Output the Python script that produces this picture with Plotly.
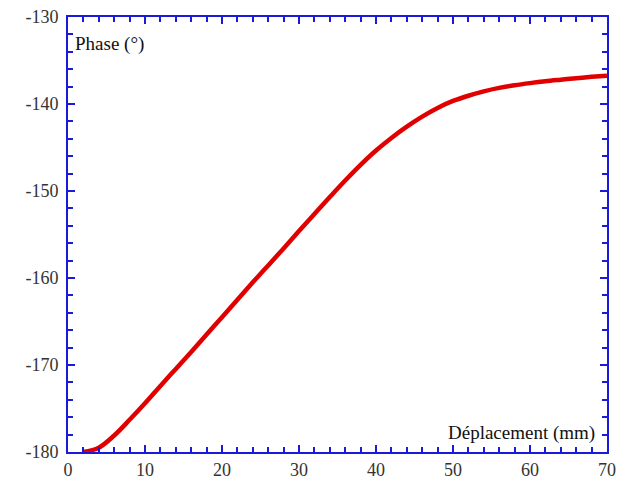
import plotly.graph_objects as go

displacement_mm = [2, 4, 6, 8, 10, 12, 14, 16, 18, 20, 22, 24, 26, 28, 30, 32, 34, 36,
                   38, 40, 42, 44, 46, 48, 50, 52, 54, 56, 58, 60, 62, 64, 66, 68, 70]
phase_deg = [-180.0, -179.5, -178.1, -176.3, -174.4, -172.4, -170.45, -168.5, -166.5,
             -164.5, -162.5, -160.5, -158.55, -156.6, -154.6, -152.65, -150.7, -148.8,
             -147.0, -145.35, -143.9, -142.6, -141.45, -140.45, -139.65, -139.05, -138.55,
             -138.15, -137.85, -137.6, -137.38, -137.2, -137.03, -136.88, -136.75]

x_ticks = [0, 10, 20, 30, 40, 50, 60, 70]
y_ticks = [-180, -170, -160, -150, -140, -130]
y_ticklabels = ["-180", "-170", "-160", "-150", "-140", "-130"]

x_title = "Déplacement (mm)"
y_title = "Phase (°)"

fig = go.Figure()
fig.add_trace(go.Scatter(x=displacement_mm, y=phase_deg, mode="lines",
                         line=dict(color="#e00000", width=4.5, shape="spline", smoothing=1.0),
                         showlegend=False))

blue = "#1a1adc"
axis_common = dict(
    showgrid=False, zeroline=False, showline=True, linecolor=blue, linewidth=2,
    mirror="ticks", ticks="inside", ticklen=7, tickwidth=2, tickcolor=blue,
    tickfont=dict(family="Liberation Serif", size=18, color="#333333"),
    automargin=False,
)
minor = dict(dtick=2, ticks="inside", ticklen=5, tickwidth=2, tickcolor=blue)

fig.update_xaxes(range=[0, 70], tickvals=x_ticks, ticktext=[str(v) for v in x_ticks],
                 minor=minor, **axis_common)
fig.update_yaxes(range=[-180, -130], tickvals=y_ticks, ticktext=y_ticklabels,
                 minor=minor, ticklabelstandoff=4, **axis_common)

fig.add_annotation(x=0, y=1, xref="paper", yref="paper", xanchor="left", yanchor="top",
                   xshift=5, yshift=-14, text=y_title, showarrow=False,
                   font=dict(family="Liberation Serif", size=19, color="#111111"))
fig.add_annotation(x=1, y=0, xref="paper", yref="paper", xanchor="right", yanchor="bottom",
                   xshift=-10, yshift=6, text=x_title, showarrow=False,
                   font=dict(family="Liberation Serif", size=19, color="#111111"))

fig.update_layout(width=627, height=481, margin=dict(l=68, r=20, t=17, b=29),
                  plot_bgcolor="white", paper_bgcolor="white")

fig.write_html("out.html")
